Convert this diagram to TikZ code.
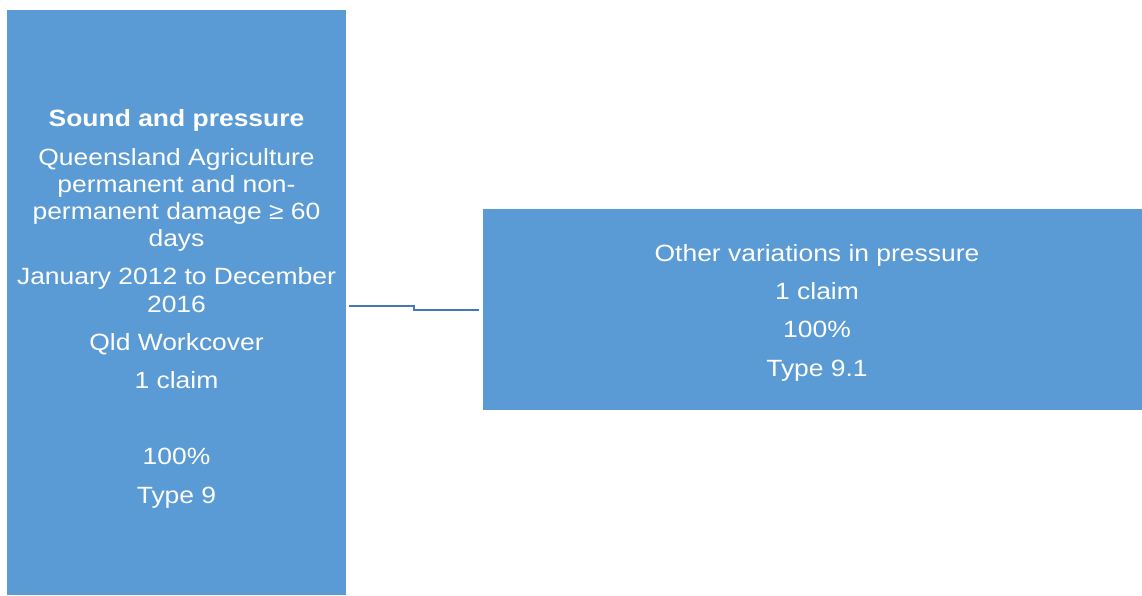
\documentclass[tikz,border=0pt]{standalone}
\usepackage{fontspec}
\setmainfont{Liberation Sans}[FakeStretch=1.125]
\definecolor{boxblue}{RGB}{91,155,213}
\definecolor{linkblue}{RGB}{70,120,180}
\begin{document}
\begin{tikzpicture}[x=1pt,y=1pt,
  box/.style={fill=boxblue, draw=none, inner sep=0pt},
  txt/.style={text=white, align=center, inner sep=0pt, font=\fontsize{23.5}{27.2}\selectfont},
  conn/.style={draw=linkblue, line width=2pt}]
\useasboundingbox (0,0) rectangle (1142,595);
\node[box, anchor=north west, minimum width=339pt, minimum height=585pt] (L) at (7,585) {};
\node[box, anchor=north west, minimum width=659pt, minimum height=201pt] (R) at (483,386) {};
\node[txt] (Lt) at (176.5,286) {\textbf{Sound and pressure}\\[11pt]
Queensland Agriculture\\ permanent and non-\\ permanent damage ≥ 60\\ days\\[11pt]
January 2012 to December\\ 2016\\[11pt]
Qld Workcover\\[11pt]
1 claim\\[11pt]
\mbox{}\\[11pt]
100\%\\[11pt]
Type 9};
\node[txt, font=\fontsize{23.5}{38.3}\selectfont] (Rt) at (817,282.5) {Other variations in pressure\\ 1 claim\\ 100\%\\ Type 9.1};
\draw[conn] ([xshift=3pt]L.east |- 0,289) -- ++(65,0) |- ([xshift=-4pt]R.west);
\end{tikzpicture}
\end{document}
